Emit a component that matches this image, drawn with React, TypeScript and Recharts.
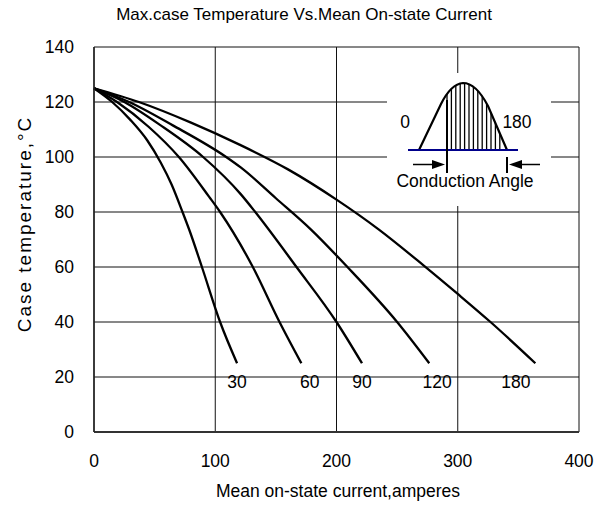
import { LineChart, Line, XAxis, YAxis, CartesianGrid, ReferenceDot, Customized } from 'recharts';

// case temperature (°C) vs mean on-state current (A), per conduction angle
const curve30 = [
  { x: 0, y: 125 }, { x: 15, y: 120 }, { x: 30, y: 113.5 }, { x: 44, y: 106 }, { x: 55, y: 98 },
  { x: 64, y: 90 }, { x: 73, y: 80 }, { x: 79, y: 73 }, { x: 89, y: 60 }, { x: 104, y: 40 },
  { x: 118, y: 25 },
];
const curve60 = [
  { x: 0, y: 125 }, { x: 19, y: 120 }, { x: 45, y: 111 }, { x: 70, y: 100 }, { x: 95, y: 85.5 },
  { x: 104, y: 80 }, { x: 131, y: 60 }, { x: 153, y: 40 }, { x: 171, y: 25 },
];
const curve90 = [
  { x: 0, y: 125 }, { x: 25, y: 120 }, { x: 55, y: 111.5 }, { x: 90, y: 100 }, { x: 121, y: 86.5 },
  { x: 133, y: 80 }, { x: 167, y: 60 }, { x: 200, y: 40 }, { x: 221, y: 25 },
];
const curve120 = [
  { x: 0, y: 125 }, { x: 29, y: 120 }, { x: 65, y: 111.5 }, { x: 109, y: 100 }, { x: 121, y: 96.2 },
  { x: 150, y: 85 }, { x: 179, y: 73.6 }, { x: 209, y: 60 }, { x: 250, y: 40 }, { x: 276.5, y: 25 },
];
const curve180 = [
  { x: 0, y: 125 }, { x: 37, y: 120 }, { x: 80, y: 112.5 }, { x: 120, y: 104.5 }, { x: 160, y: 95.5 },
  { x: 200, y: 84.5 }, { x: 235, y: 73.6 }, { x: 272, y: 60.5 }, { x: 300, y: 50.2 }, { x: 327, y: 40 },
  { x: 364, y: 25 },
];

const xTicks = [0, 100, 200, 300, 400];
const yTicks = [0, 20, 40, 60, 80, 100, 120, 140];

const series = [
  { label: '30', data: curve30, dx: 0 },
  { label: '60', data: curve60, dx: 7 },
  { label: '90', data: curve90, dx: 0 },
  { label: '120', data: curve120, dx: 6.5 },
  { label: '180', data: curve180, dx: -16 },
];

const FONT = '"Liberation Sans", Arial, sans-serif';
const hatchX = [447, 451.4, 455.8, 460.2, 464.6, 469, 473.4, 477.8, 482.2, 486.6, 491, 495.4, 499.8];

const wave = 'M419,150 L441,104 Q451,84 463,83 Q476,83 488,106 L507,150 Z';

function Overlay() {
  return (
    <g fontFamily={FONT}>
      <text x={304} y={20} textAnchor="middle" fontSize={17} fontFamily='"Liberation Sans Narrow", "Arial Narrow", Arial, sans-serif'>
        Max.case Temperature Vs.Mean On-state Current
      </text>
      <text x={0} y={0} transform="translate(31,224) rotate(-90)" textAnchor="middle" fontSize={19} letterSpacing={2}>
        Case temperature,°C
      </text>
      <text x={338} y={497} textAnchor="middle" fontSize={17.5}>
        Mean on-state current,amperes
      </text>

      {/* conduction angle inset */}
      <rect x={387} y={73} width={164} height={133} fill="#fff" />
      <defs>
        <clipPath id="waveClip">
          <path d={wave} />
        </clipPath>
      </defs>
      <g clipPath="url(#waveClip)">
        {hatchX.map((hx) => (
          <line key={hx} x1={hx} x2={hx} y1={78} y2={150} stroke="#000" strokeWidth={1.3} />
        ))}
      </g>
      <path d="M419,150 L441,104 Q451,84 463,83 Q476,83 488,106 L507,150" fill="none" stroke="#000" strokeWidth={2.2} />
      <line x1={408} x2={518} y1={150} y2={150} stroke="#00008b" strokeWidth={2} />
      <line x1={447} x2={447} y1={100} y2={173} stroke="#000" strokeWidth={2} />
      <line x1={507} x2={507} y1={157} y2={173} stroke="#000" strokeWidth={2} />
      <line x1={413} x2={434} y1={164.5} y2={164.5} stroke="#000" strokeWidth={1.5} />
      <polygon points="432,160 445,164.5 432,169" fill="#000" />
      <line x1={520} x2={540} y1={164.5} y2={164.5} stroke="#000" strokeWidth={1.5} />
      <polygon points="522,160 509,164.5 522,169" fill="#000" />
      <text x={405} y={128} textAnchor="middle" fontSize={17.5}>0</text>
      <text x={517} y={128} textAnchor="middle" fontSize={17.5}>180</text>
      <text x={465} y={187} textAnchor="middle" fontSize={17.5}>Conduction Angle</text>
    </g>
  );
}

export default function App() {
  return (
    <div style={{ position: 'absolute', left: 0, top: 0, background: '#fff' }}>
      <LineChart width={607} height={508} margin={{ top: 47, right: 28, bottom: 0, left: 0 }}>
        <CartesianGrid stroke="#111" strokeWidth={1} />
        <XAxis
          type="number"
          dataKey="x"
          domain={[0, 400]}
          ticks={xTicks}
          height={76}
          tickSize={0}
          tickMargin={23}
          axisLine={{ stroke: '#333', strokeWidth: 2 }}
          tick={{ fill: '#000', fontSize: 17.5, fontFamily: FONT }}
        />
        <YAxis
          type="number"
          domain={[0, 140]}
          ticks={yTicks}
          width={94}
          tickSize={0}
          tickMargin={20}
          axisLine={{ stroke: '#222', strokeWidth: 1.5 }}
          tick={{ fill: '#000', fontSize: 17.5, fontFamily: FONT }}
        />
        {series.map((s) => (
          <Line
            key={s.label}
            data={s.data}
            dataKey="y"
            type="monotone"
            stroke="#000"
            strokeWidth={2.3}
            dot={false}
            isAnimationActive={false}
          />
        ))}
        <Customized component={Overlay} />
        {series.map((s) => (
          <ReferenceDot
            key={'lbl' + s.label}
            x={s.data[s.data.length - 1].x + s.dx}
            y={18.3}
            r={1}
            fill="none"
            stroke="none"
            label={{ value: s.label, position: 'center', fontSize: 17.5, fill: '#000', fontFamily: FONT }}
          />
        ))}
      </LineChart>
    </div>
  );
}
